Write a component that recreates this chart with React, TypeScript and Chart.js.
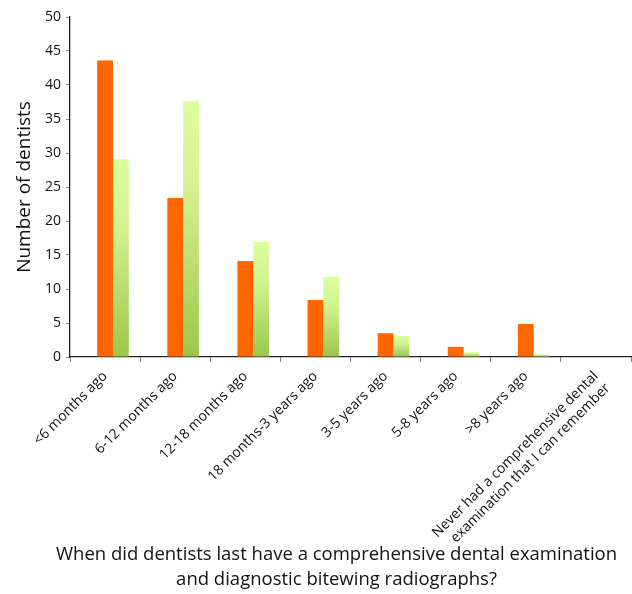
import React, { useEffect, useRef } from "react";
import { Chart, registerables } from "chart.js";

Chart.register(...registerables);

const categories: (string | string[])[] = [
  "<6 months ago",
  "6-12 months ago",
  "12-18 months ago",
  "18 months-3 years ago",
  "3-5 years ago",
  "5-8 years ago",
  ">8 years ago",
  ["Never had a comprehensive dental", "examination that I can remember"],
];

const seriesOrange = [43.6, 23.4, 14.1, 8.4, 3.5, 1.5, 4.85, 0];
const seriesGreen = [29.1, 37.6, 16.9, 11.8, 3.1, 0.7, 0.4, 0];
// empty slot used only to reproduce the offset bar grouping of the original
const seriesSpacer: (number | null)[] = [null, null, null, null, null, null, null, null];

const yTitle = "Number of dentists";
const xTitle = [
  "When did dentists last have a comprehensive dental examination",
  "and diagnostic bitewing radiographs?",
];

const FONT = "'Open Sans', 'DejaVu Sans', sans-serif";

const xTitlePlugin = {
  id: "xTitleDraw",
  afterDraw(chart: any) {
    const { ctx, chartArea, height } = chart;
    ctx.save();
    ctx.font = `18.5px ${FONT}`;
    ctx.fillStyle = "#111";
    ctx.textAlign = "center";
    ctx.textBaseline = "middle";
    const cx = (chartArea.left + chartArea.right) / 2 - 14;
    const lh = 25;
    const last = height - 14;
    xTitle.forEach((line, i) => {
      ctx.fillText(line, cx, last - (xTitle.length - 1 - i) * lh);
    });
    ctx.restore();
  },
};

export default function App() {
  const ref = useRef<HTMLCanvasElement | null>(null);

  useEffect(() => {
    if (!ref.current) return;
    const greenFill = (ctx: any) => {
      const chart = ctx.chart;
      const { chartArea, scales } = chart;
      if (!chartArea || !scales.y) return "#C0E07A";
      const v = ctx.raw as number;
      const top = scales.y.getPixelForValue(v);
      const bottom = scales.y.getPixelForValue(0);
      if (!(bottom - top > 0.5)) return "#C8EA88";
      const g = chart.ctx.createLinearGradient(0, top, 0, bottom);
      g.addColorStop(0, "#DCFF9E");
      g.addColorStop(0.35, "#D2F290");
      g.addColorStop(1, "#9CC64A");
      return g;
    };

    const common = { borderWidth: 0, barPercentage: 1.0, categoryPercentage: 0.677 };

    const chart = new Chart(ref.current, {
      type: "bar",
      data: {
        labels: categories as any,
        datasets: [
          { label: "", data: seriesSpacer, backgroundColor: "rgba(0,0,0,0)", ...common },
          { label: "A", data: seriesOrange, backgroundColor: "#FF6600", ...common },
          { label: "B", data: seriesGreen, backgroundColor: greenFill, ...common },
        ],
      },
      plugins: [xTitlePlugin],
      options: {
        animation: false,
        responsive: false,
        maintainAspectRatio: false,
        layout: { padding: { top: 17, right: 1, left: 0, bottom: 1 } },
        plugins: {
          legend: { display: false },
          tooltip: { enabled: false },
          title: { display: false },
        },
        scales: {
          x: {
            offset: true,
            grid: {
              display: true,
              drawOnChartArea: false,
              drawTicks: true,
              tickLength: 5,
              offset: true,
              color: "#808080",
            },
            border: { display: true, color: "#222", width: 1.3 },
            ticks: {
              minRotation: 45,
              maxRotation: 45,
              autoSkip: false,
              color: "#111",
              font: { family: FONT, size: 14 },
              padding: 6,
            },
            title: { display: false },
            afterFit: (scale: any) => {
              scale.height = 236;
            },
          },
          y: {
            min: 0,
            max: 50,
            grid: {
              display: true,
              drawOnChartArea: false,
              drawTicks: true,
              tickLength: 4,
              color: "#808080",
            },
            border: { display: true, color: "#222", width: 1.3 },
            ticks: {
              stepSize: 5,
              color: "#111",
              font: { family: FONT, size: 14 },
              padding: 5,
            },
            title: {
              display: true,
              text: yTitle,
              color: "#111",
              font: { family: FONT, size: 19 },
              padding: { top: 13, bottom: 0 },
            },
            afterFit: (scale: any) => {
              scale.width = 70;
            },
          },
        },
      },
    });
    return () => chart.destroy();
  }, []);

  return (
    <div style={{ position: "fixed", left: 0, top: 0, width: 632, height: 594, background: "#fff" }}>
      <canvas ref={ref} width={632} height={594} style={{ width: 632, height: 594 }} />
    </div>
  );
}
